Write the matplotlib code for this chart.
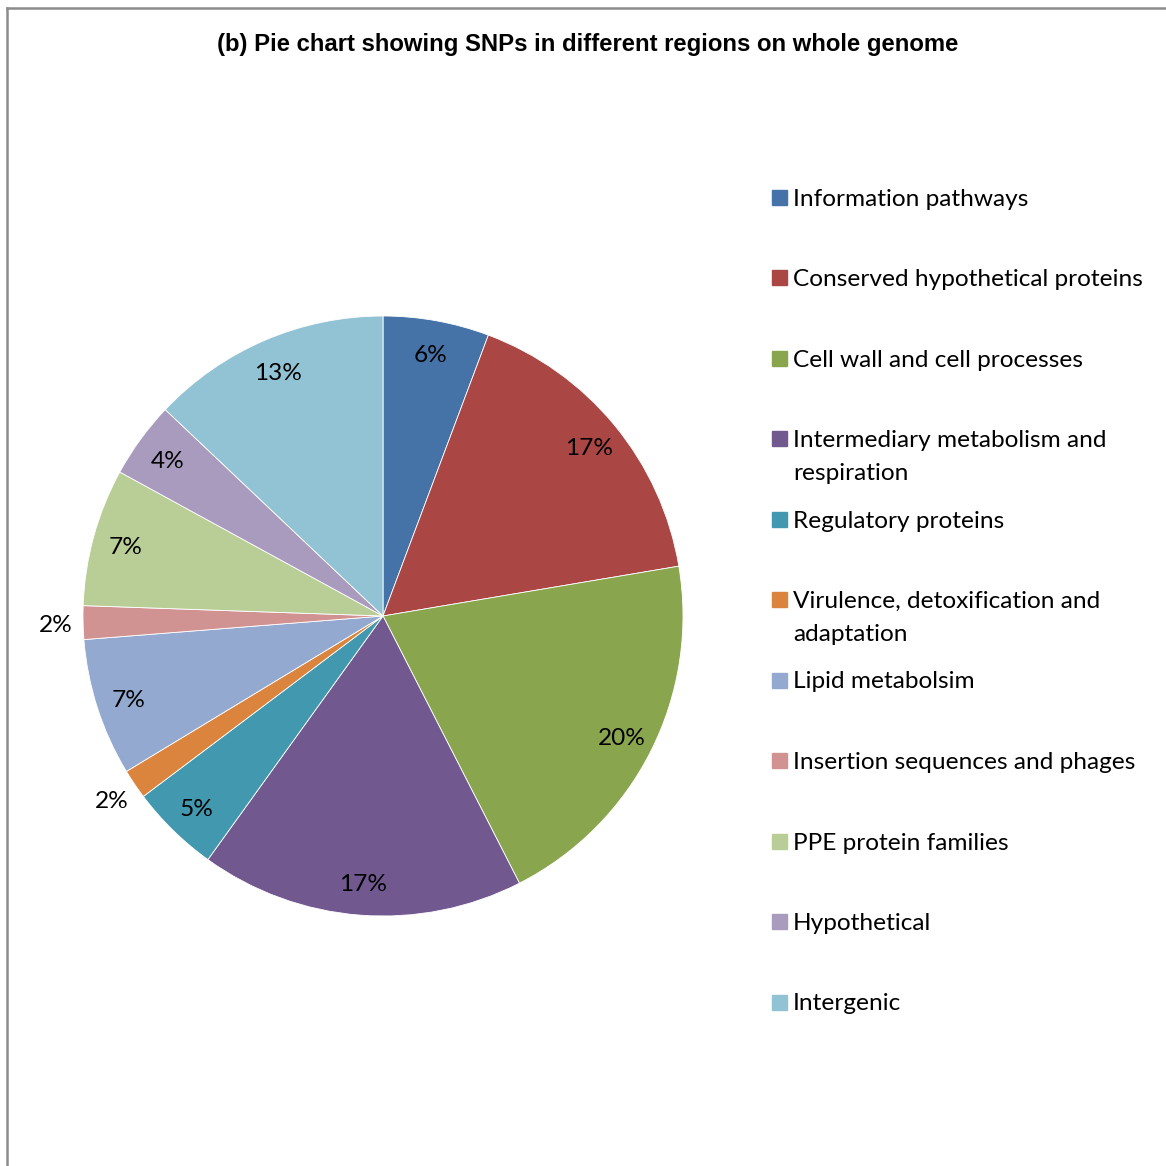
import matplotlib
matplotlib.use("Agg")
import matplotlib.pyplot as plt
import numpy as np
from matplotlib.lines import Line2D
from matplotlib.patches import Rectangle

# Данные (доли в процентах)
categories = [
    "Information pathways",
    "Conserved hypothetical proteins",
    "Cell wall and cell processes",
    "Intermediary metabolism and\nrespiration",
    "Regulatory proteins",
    "Virulence, detoxification and\nadaptation",
    "Lipid metabolsim",
    "Insertion sequences and phages",
    "PPE protein families",
    "Hypothetical",
    "Intergenic",
]
shares = [5.7, 16.6, 20.1, 17.4, 4.8, 1.6, 7.4, 1.8, 7.4, 4.1, 12.9]
colors = ['#4572A7', '#AA4643', '#89A54E', '#71588F', '#4198AF', '#DB843D',
          '#93A9CF', '#D19392', '#B9CD96', '#A99BBD', '#92C3D4']

W = H = 1166
fig = plt.figure(figsize=(W / 100, H / 100), dpi=100)

LABEL_FONT = ['Lato', 'DejaVu Sans']
FS = 17.6

# Рамка (видны только левая и верхняя стороны)
fig.add_artist(Line2D([7 / W, 7 / W], [0, 1 - 8 / H], color='#8c8c8c', lw=1.8))
fig.add_artist(Line2D([7 / W, 1], [1 - 8 / H, 1 - 8 / H], color='#8c8c8c', lw=1.8))

fig.text(588 / W, 1 - 44 / H,
         "(b) Pie chart showing SNPs in different regions on whole genome",
         ha='center', va='center', fontsize=17.2, fontweight='bold',
         family=['Liberation Sans', 'DejaVu Sans'])

# Круговая диаграмма
cx, cy, r = 383, 616, 300
ax = fig.add_axes([(cx - r) / W, 1 - (cy + r) / H, 2 * r / W, 2 * r / H])
wedges, _ = ax.pie(shares, colors=colors, startangle=90, counterclock=False,
                   radius=1, wedgeprops=dict(edgecolor='white', linewidth=0.6))
ax.set_xlim(-1, 1)
ax.set_ylim(-1, 1)
ax.set_aspect('equal')
ax.axis('off')

total = sum(shares)
for w, v in zip(wedges, shares):
    pct = v / total * 100
    ang = np.deg2rad((w.theta1 + w.theta2) / 2)
    dist = 0.89 if pct >= 3 else 1.09
    ax.text(dist * np.cos(ang), dist * np.sin(ang) - 0.008, f"{pct:.0f}%",
            ha='center', va='center', fontsize=FS, family=LABEL_FONT)

# Легенда
for i, (name, col) in enumerate(zip(categories, colors)):
    y = 197 + i * 80.5
    fig.add_artist(Rectangle((772 / W, 1 - (y + 7.5) / H), 15 / W, 15 / H,
                             transform=fig.transFigure, color=col))
    for j, line in enumerate(name.split('\n')):
        fig.text(793 / W, 1 - (y + 2 + j * 33) / H, line, ha='left', va='center',
                 fontsize=FS, family=LABEL_FONT)

plt.savefig('out.png', dpi=100)
